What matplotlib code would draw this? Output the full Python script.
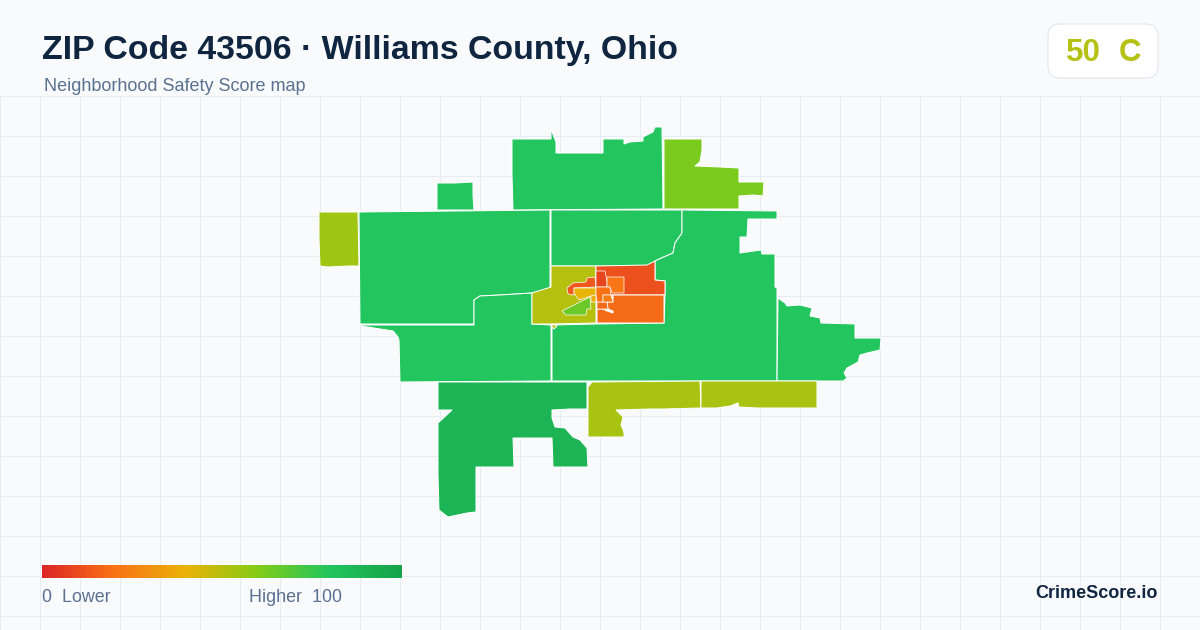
import numpy as np
import matplotlib
matplotlib.use('Agg')
import matplotlib.pyplot as plt
from matplotlib.colors import LinearSegmentedColormap
from matplotlib.patches import FancyBboxPatch, Polygon

plt.rcParams['font.family'] = ['Liberation Sans', 'DejaVu Sans']

# ------------------------------------------------------------
# DATA - outlines, drawn back to front
# ------------------------------------------------------------
title = "ZIP Code 43506 · Williams County, Ohio"
subtitle = "Neighborhood Safety Score map"
badge_score = "50"
badge_grade = "C"
legend_low = "0  Lower"
legend_high = "Higher  100"
brand = "CrimeScore.io"

west_block = [(319,212),(358,212),(359,266),(348,266),(328,267),(320,266),(319,238)]
small_box = [(437,183),(455,183),(473,182),(473,196),(474,210),(437,210)]
north = [(512,139),(551,139),(551,129),(554,137),(556,142),(556,153),(603,153),(603,139),
         (624,139),(624,144),(630,142),(643,141),(643,137),(653,132),(655,127),(662,127),
         (663,209),(513,210),(512,175)]
northeast = [(664,139),(702,139),(702,150),(700,162),(695,166),(720,167),(739,168),(739,182),
             (764,182),(763,196),(753,195),(739,196),(739,209),(664,209)]
west_big = [(359,212),(454,211),(550,210),(550,288),(532,293),(500,295),(480,296),(474,300),
            (474,324),(360,324)]
southwest = [(361,326),(393,331),(398,337),(399,340),(400,382),(551,381),(551,325),(532,324),
             (532,293),(500,295),(480,296),(474,300),(474,325),(361,325)]
north_center = [(551,210),(682,210),(682,233),(675,243),(673,253),(657,260),(654,266),(596,266),(551,266)]
center_main = [(552,381),(552,325),(596,324),(664,323),(665,295),(665,281),(655,280),(655,261),
               (657,260),(673,253),(675,243),(682,233),(682,210),(777,211),(777,219),(748,219),
               (747,237),(740,237),(740,253),(761,250),(762,254),(775,254),(775,287),(777,288),
               (777,381)]
east = [(778,298),(785,303),(787,306),(800,305),(812,308),(810,316),(820,318),(821,323),(855,324),
        (855,338),(881,338),(880,350),(867,353),(860,355),(858,362),(847,368),(844,373),(847,378),
        (843,381),(777,381)]
south_olive_a = [(588,387),(592,382),(700,381),(701,408),(663,409),(650,409),(616,410),(623,417),
                 (621,425),(624,432),(624,437),(588,437)]
south_olive_b = [(701,381),(817,381),(817,408),(795,408),(757,408),(739,407),(738,403),(730,406),
                 (717,408),(701,408)]
south_dark = [(438,382),(587,382),(587,409),(570,409),(552,410),(552,418),(555,427),(565,428),
              (573,437),(580,440),(587,448),(588,467),(553,467),(552,438),(513,438),(514,467),
              (476,467),(476,512),(467,513),(448,517),(439,510),(438,475),(438,423),(452,410),(438,410)]
olive_center = [(551,266),(551,287),(532,293),(532,324),(552,324),(557,326),(554,329),(552,327),
                (552,324),(596,323),(596,266)]
east_top = [(596,266),(647,265),(655,261),(655,280),(665,281),(665,295),(596,295)]
lower_orange = [(613,295),(664,295),(664,323),(597,323),(597,309),(603,309),(607,311),(613,313),
                (613,311),(608,309),(607,302),(613,302)]
mid_orange = [(597,302),(607,302),(608,309),(597,309)]
red_strip = [(567,288),(573,283),(586,282),(587,278),(595,277),(596,287),(574,288),(574,295),(568,294)]
red_core = [(596,271),(605,271),(607,282),(607,287),(596,287)]
right_orange = [(607,277),(612,277),(624,277),(624,293),(612,293),(610,287),(607,287)]
yellow_a = [(574,288),(596,288),(596,295),(591,296),(579,300),(574,293)]
yellow_b = [(591,296),(596,295),(596,302),(591,302)]
center_orange = [(596,287),(610,287),(611,295),(603,295),(603,302),(597,302),(596,295)]
small_orange = [(603,295),(611,295),(613,302),(603,302)]
lime_shard = [(562,311),(590,297),(591,309),(587,309),(586,315),(566,315)]

zones = [west_block, small_box, north, northeast, west_big, southwest, north_center, center_main,
         east, south_olive_a, south_olive_b, south_dark, olive_center, east_top, lower_orange,
         mid_orange, red_strip, red_core, right_orange, yellow_a, yellow_b, center_orange,
         small_orange, lime_shard]
zone_scores = [55, 80, 80, 62, 80, 80, 80, 80,
               80, 53, 53, 90, 50, 11, 18,
               18, 13, 8, 21, 40, 38, 20,
               23, 65]

# ------------------------------------------------------------
# COLOUR SCALE
# ------------------------------------------------------------
score_cmap = LinearSegmentedColormap.from_list(
    'score', ['#dc2626', '#f97316', '#eab308', '#84cc16', '#22c55e', '#16a34a'])

# ------------------------------------------------------------
# FIGURE
# ------------------------------------------------------------
fig = plt.figure(figsize=(12, 6.3), dpi=100, facecolor='#f8fafc')
ax = fig.add_axes([0, 0, 1, 1])
ax.axis('off')

# background grid, only below the header
ax.vlines(np.arange(0, 1200, 40), 96, 630, color='#e6edf2', lw=0.72, zorder=1)
ax.hlines(np.arange(96, 630, 40), 0, 1200, color='#e6edf2', lw=0.72, zorder=1)

# the small inner tracts get a thinner outline
for i, (pts, score) in enumerate(zip(zones, zone_scores)):
    edge_lw = 0.5 if i >= 15 else 0.72
    ax.add_patch(Polygon(pts, closed=True, facecolor=score_cmap(score / 100),
                         edgecolor='white', lw=edge_lw, joinstyle='round', zorder=2))

# header
ax.text(42, 50, title, fontsize=24.4, fontweight='bold', color='#0f2540', va='center', ha='left')
ax.text(44, 86.5, subtitle, fontsize=12.95, color='#5a7190', va='center', ha='left')

# score badge
ax.add_patch(FancyBboxPatch((1060, 36), 86, 30, boxstyle='round,pad=12,rounding_size=12',
                            facecolor='white', edgecolor='#dfe6ee', lw=0.72, zorder=3))
ax.text(1066, 53, badge_score, fontsize=22.5, fontweight='bold', color='#b5c114', va='center', ha='left', zorder=4)
ax.text(1119, 53, badge_grade, fontsize=22.5, fontweight='bold', color='#b5c114', va='center', ha='left', zorder=4)

# legend gradient
gradient = np.linspace(0, 100, 360).reshape(1, -1)
ax.imshow(gradient, cmap=score_cmap, vmin=0, vmax=100, extent=(42, 402, 578, 565),
          aspect='auto', interpolation='bilinear', zorder=3)
ax.text(42, 598, legend_low, fontsize=12.9, color='#5a7190', va='center', ha='left')
ax.text(249, 598, legend_high, fontsize=12.9, color='#5a7190', va='center', ha='left')

ax.text(1158, 594, brand, fontsize=13, fontweight='bold', color='#0f2540', va='center', ha='right')

ax.set_xlim(0, 1200)
ax.set_ylim(630, 0)

fig.savefig('out.png', dpi=100, facecolor=fig.get_facecolor())
